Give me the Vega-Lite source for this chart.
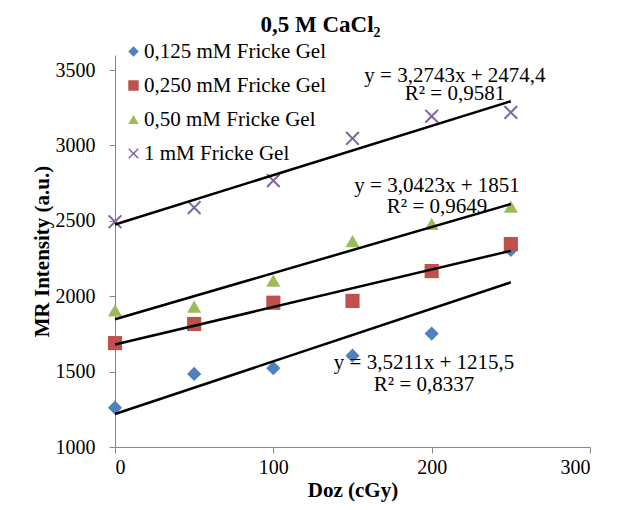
{
  "$schema": "https://vega.github.io/schema/vega-lite/v6.json",
  "autosize": {"type": "none"},
  "width": 475,
  "height": 392,
  "padding": {"left": 115, "top": 55, "right": 31, "bottom": 63},
  "background": "white",
  "config": {
    "view": {"stroke": null},
    "font": "Liberation Serif",
    "axis": {
      "grid": false,
      "domainColor": "#868686",
      "tickColor": "#868686",
      "tickSize": 6,
      "labelFont": "Liberation Serif",
      "labelFontSize": 20,
      "labelColor": "black",
      "titleFont": "Liberation Serif",
      "titleFontSize": 21,
      "titleFontWeight": "bold",
      "titleColor": "black",
      "format": "d"
    },
    "legend": {
      "labelFont": "Liberation Serif",
      "labelFontSize": 21,
      "labelColor": "black",
      "labelLimit": 400,
      "symbolSize": 110,
      "rowPadding": 12,
      "labelOffset": 0,
      "symbolOpacity": 1
    }
  },
  "title": {
    "text": "0,5 M CaCl₂",
    "font": "Liberation Serif",
    "fontSize": 23,
    "fontWeight": "bold",
    "color": "black",
    "baseline": "alphabetic",
    "offset": -14,
    "dx": -32
  },
  "datasets": {
    "points": [
      {"doz": 0, "mr": 1261, "series": "0,125 mM Fricke Gel"},
      {"doz": 50, "mr": 1485, "series": "0,125 mM Fricke Gel"},
      {"doz": 100, "mr": 1523, "series": "0,125 mM Fricke Gel"},
      {"doz": 150, "mr": 1606, "series": "0,125 mM Fricke Gel"},
      {"doz": 200, "mr": 1752, "series": "0,125 mM Fricke Gel"},
      {"doz": 250, "mr": 2307, "series": "0,125 mM Fricke Gel"},
      {"doz": 0, "mr": 1689, "series": "0,250 mM Fricke Gel"},
      {"doz": 50, "mr": 1816, "series": "0,250 mM Fricke Gel"},
      {"doz": 100, "mr": 1957, "series": "0,250 mM Fricke Gel"},
      {"doz": 150, "mr": 1969, "series": "0,250 mM Fricke Gel"},
      {"doz": 200, "mr": 2167, "series": "0,250 mM Fricke Gel"},
      {"doz": 250, "mr": 2346, "series": "0,250 mM Fricke Gel"},
      {"doz": 0, "mr": 1906, "series": "0,50 mM Fricke Gel"},
      {"doz": 50, "mr": 1931, "series": "0,50 mM Fricke Gel"},
      {"doz": 100, "mr": 2103, "series": "0,50 mM Fricke Gel"},
      {"doz": 150, "mr": 2365, "series": "0,50 mM Fricke Gel"},
      {"doz": 200, "mr": 2480, "series": "0,50 mM Fricke Gel"},
      {"doz": 250, "mr": 2594, "series": "0,50 mM Fricke Gel"},
      {"doz": 0, "mr": 2494, "series": "1 mM Fricke Gel"},
      {"doz": 50, "mr": 2588, "series": "1 mM Fricke Gel"},
      {"doz": 100, "mr": 2767, "series": "1 mM Fricke Gel"},
      {"doz": 150, "mr": 3047, "series": "1 mM Fricke Gel"},
      {"doz": 200, "mr": 3194, "series": "1 mM Fricke Gel"},
      {"doz": 250, "mr": 3219, "series": "1 mM Fricke Gel"}
    ],
    "labels": [
      {"doz": 214.7, "mr": 3462, "label": "y = 3,2743x + 2474,4"},
      {"doz": 214.7, "mr": 3341, "label": "R² = 0,9581"},
      {"doz": 203.4, "mr": 2728, "label": "y = 3,0423x + 1851"},
      {"doz": 203.4, "mr": 2594, "label": "R² = 0,9649"},
      {"doz": 195.2, "mr": 1555, "label": "y = 3,5211x + 1215,5"},
      {"doz": 195.2, "mr": 1408, "label": "R² = 0,8337"}
    ]
  },
  "layer": [
    {
      "data": {"name": "points"},
      "mark": {"type": "point", "filled": true, "opacity": 1, "size": 200},
      "encoding": {
        "x": {
          "field": "doz", "type": "quantitative",
          "scale": {"domain": [0, 300]},
          "axis": {"values": [0, 100, 200, 300], "title": "Doz (cGy)", "labelPadding": 4, "titlePadding": 2}
        },
        "y": {
          "field": "mr", "type": "quantitative",
          "scale": {"domain": [1000, 3500]},
          "axis": {"values": [1000, 1500, 2000, 2500, 3000, 3500], "title": "MR Intensity (a.u.)", "labelPadding": 14, "titlePadding": 3}
        },
        "color": {
          "field": "series", "type": "nominal",
          "scale": {
            "domain": ["0,125 mM Fricke Gel", "0,250 mM Fricke Gel", "0,50 mM Fricke Gel", "1 mM Fricke Gel"],
            "range": ["#4F81BD", "#C0504D", "#9BBB59", "#8064A2"]
          },
          "legend": {
            "title": null,
            "orient": "none",
            "legendX": 8,
            "legendY": -14
          }
        },
        "shape": {
          "field": "series", "type": "nominal",
          "scale": {
            "domain": ["0,125 mM Fricke Gel", "0,250 mM Fricke Gel", "0,50 mM Fricke Gel", "1 mM Fricke Gel"],
            "range": ["diamond", "square", "triangle-up", "M-0.8,-1L0,-0.2L0.8,-1L1,-0.8L0.2,0L1,0.8L0.8,1L0,0.2L-0.8,1L-1,0.8L-0.2,0L-1,-0.8Z"]
          },
          "legend": {
            "title": null,
            "orient": "none",
            "legendX": 8,
            "legendY": -14
          }
        }
      }
    },
    {
      "data": {"name": "points"},
      "transform": [
        {"regression": "mr", "on": "doz", "groupby": ["series"], "extent": [0, 250]}
      ],
      "mark": {"type": "line", "color": "black", "strokeWidth": 2.5},
      "encoding": {
        "x": {"field": "doz", "type": "quantitative"},
        "y": {"field": "mr", "type": "quantitative"},
        "detail": {"field": "series", "type": "nominal"}
      }
    },
    {
      "data": {"name": "labels"},
      "mark": {"type": "text", "font": "Liberation Serif", "fontSize": 21, "color": "black", "align": "center", "baseline": "middle"},
      "encoding": {
        "x": {"field": "doz", "type": "quantitative"},
        "y": {"field": "mr", "type": "quantitative"},
        "text": {"field": "label", "type": "nominal"}
      }
    }
  ]
}
